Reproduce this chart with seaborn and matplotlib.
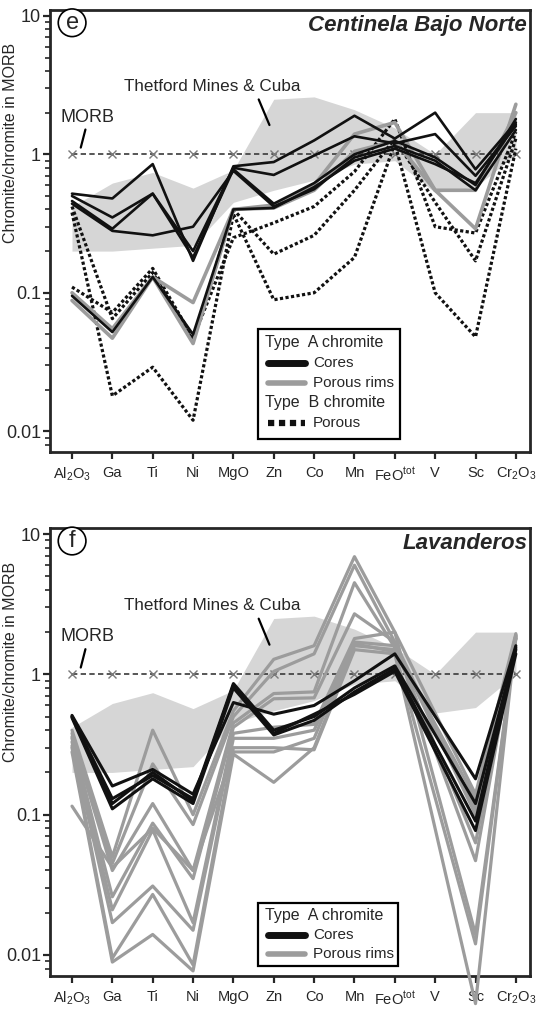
import numpy as np
import pandas as pd
import matplotlib
matplotlib.use("Agg")
import matplotlib.pyplot as plt
import seaborn as sns
from matplotlib.lines import Line2D
from matplotlib.patches import Rectangle
from matplotlib.ticker import LogLocator, NullFormatter

nan = np.nan

# ---- elements on the x axis ----
elements = ["Al2O3", "Ga", "Ti", "Ni", "MgO", "Zn", "Co", "Mn", "FeO", "V", "Sc", "Cr2O3"]
tick_labels = [r"Al$_2$O$_3$", "Ga", "Ti", "Ni", "MgO", "Zn", "Co", "Mn",
               r"FeO$^{\mathregular{tot}}$", "V", "Sc", r"Cr$_2$O$_3$"]
ytick_values = [0.01, 0.1, 1, 10]
ytick_labels = ["0.01", "0.1", "1", "10"]

# MORB normalisation reference
morb = [1.0] * 12

# Thetford Mines & Cuba field (lower / upper envelope)
field_upper = [0.42, 0.62, 0.74, 0.57, 0.77, 2.50, 2.60, 2.10, 1.55, 1.00, 2.00, 2.00]
field_lower = [0.20, 0.20, 0.21, 0.22, 0.45, 0.55, 0.65, 0.85, 0.90, 0.53, 0.58, 1.00]

# ---- Centinela Bajo Norte ----
cbn_cores = [
    [0.52, 0.48, 0.85, 0.17, 0.82, 0.88, 1.26, 1.90, 1.30, 2.00, 0.78, 1.70],
    [0.50, 0.35, 0.52, 0.20, 0.80, 0.71, 0.98, 1.35, 1.20, 1.40, 0.70, 1.60],
    [0.46, 0.29, 0.52, 0.18, 0.78, 0.44, 0.62, 1.00, 1.25, 0.95, 0.60, 1.80],
    [0.44, 0.28, 0.26, 0.30, 0.76, 0.42, 0.56, 0.95, 1.15, 0.90, 0.55, 1.50],
    [0.095, 0.052, 0.13, 0.050, 0.40, 0.41, 0.58, 0.90, 1.10, 0.85, 0.62, 1.65],
]
cbn_rims = [
    [0.100, 0.055, 0.13, 0.085, 0.40, 0.43, 0.60, 1.40, 1.70, 0.55, 0.29, 2.30],
    [0.088, 0.047, 0.13, 0.043, 0.40, 0.41, 0.55, 1.05, 1.25, 0.55, 0.55, 2.00],
]
cbn_type_b = [
    [0.110, 0.072, 0.15, 0.047, 0.25, 0.32, 0.42, 0.75, 1.80, 0.30, 0.27, 1.45],
    [0.420, 0.065, 0.14, 0.045, 0.40, 0.19, 0.26, 0.55, 1.30, 0.45, 0.17, 1.30],
    [0.380, 0.018, 0.029, 0.012, 0.37, 0.089, 0.10, 0.18, 1.20, 0.10, 0.048, 1.10],
]

# ---- Lavanderos (no V analyses) ----
lav_cores = [
    [0.51, 0.16, 0.21, 0.14, 0.63, 0.52, 0.60, 0.90, 1.40, nan, 0.18, 1.60],
    [0.50, 0.13, 0.19, 0.13, 0.86, 0.40, 0.50, 0.80, 1.15, nan, 0.12, 1.50],
    [0.49, 0.11, 0.18, 0.12, 0.80, 0.37, 0.47, 0.75, 1.10, nan, 0.09, 1.55],
    [0.50, 0.12, 0.20, 0.125, 0.84, 0.38, 0.52, 0.72, 1.05, nan, 0.077, 1.40],
]
lav_rims = [
    [0.40, 0.050, 0.40, 0.10, 0.55, 1.28, 1.60, 6.90, 2.00, nan, 0.14, 1.95],
    [0.38, 0.045, 0.23, 0.085, 0.50, 1.05, 1.40, 6.00, 1.70, nan, 0.11, 1.90],
    [0.36, 0.040, 0.12, 0.040, 0.45, 0.73, 0.75, 4.50, 1.55, nan, 0.063, 1.85],
    [0.35, 0.026, 0.087, 0.035, 0.42, 0.67, 0.68, 2.70, 1.70, nan, 0.047, 1.90],
    [0.33, 0.021, 0.078, 0.017, 0.38, 0.42, 0.44, 1.80, 2.00, nan, 0.014, 1.80],
    [0.31, 0.017, 0.031, 0.015, 0.35, 0.35, 0.40, 1.65, 1.45, nan, 0.012, 1.85],
    [0.30, 0.0095, 0.027, 0.0085, 0.30, 0.30, 0.29, 1.50, 1.40, nan, 0.0045, 1.90],
    [0.115, 0.042, 0.080, 0.040, 0.28, 0.28, 0.35, 1.70, 1.60, nan, 0.10, 1.80],
    [0.28, 0.0089, 0.014, 0.0077, 0.27, 0.17, 0.30, 1.60, 1.50, nan, 0.13, 1.80],
]

BLACK = "#111111"
GREY = "#9c9c9c"
FIELD = "#d6d6d6"
DOTS = (0, (1.0, 0.75))

sns.set_style("ticks")
plt.rcParams["font.family"] = ["Liberation Sans", "DejaVu Sans"]
plt.rcParams["mathtext.fontset"] = "custom"
plt.rcParams["mathtext.rm"] = "Liberation Sans"
plt.rcParams["mathtext.it"] = "Liberation Sans:italic"
plt.rcParams["mathtext.bf"] = "Liberation Sans:bold"


def to_long(rows, group):
    recs = []
    for i, row in enumerate(rows):
        for j, v in enumerate(row):
            if not np.isnan(v):
                recs.append((group, f"{group}-{i}", j, v))
    return pd.DataFrame(recs, columns=["group", "sample", "pos", "value"])


def draw_group(ax, rows, group, color, lw, ls="-", clip=True):
    df = to_long(rows, group)
    n0 = len(ax.lines)
    sns.lineplot(data=df, x="pos", y="value", units="sample", estimator=None,
                 sort=False, color=color, lw=lw, linestyle=ls, ax=ax,
                 legend=False, zorder=3)
    for ln in ax.lines[n0:]:
        ln.set_clip_on(clip)
        if ls != "-":
            ln.set_dash_capstyle("butt")


def style_axes(ax, letter, title):
    x = np.arange(len(elements))
    ax.set_yscale("log")
    ax.fill_between(x, field_lower, field_upper, color=FIELD, lw=0, zorder=0)
    ax.plot(x, morb, color="#3a3a3a", lw=1.2, dashes=(3.2, 2.0), zorder=1)
    ax.plot(x, morb, ls="none", marker="x", ms=6, mew=1.0, color="#7a7a7a", zorder=1)

    ax.set_xlim(-0.545, 11.35)
    ax.set_ylim(10 ** -2.15, 10 ** 1.043)
    ax.set_xticks(x, labels=tick_labels, fontsize=10.5)
    ax.set_yticks(ytick_values, labels=ytick_labels, fontsize=13)
    ax.yaxis.set_minor_locator(LogLocator(base=10, subs=np.arange(2, 10)))
    ax.yaxis.set_minor_formatter(NullFormatter())
    ax.tick_params(axis="y", which="major", direction="out", length=5, width=1.6, pad=1.5)
    ax.tick_params(axis="y", which="minor", direction="out", length=3.5, width=1.2)
    ax.tick_params(axis="x", which="major", direction="out", length=5, width=1.6, pad=5)
    for sp in ax.spines.values():
        sp.set_visible(True)
        sp.set_linewidth(2.0)

    ax.text(0.046, 0.971, letter, transform=ax.transAxes, fontsize=17,
            ha="center", va="center",
            bbox=dict(boxstyle="circle,pad=0.12", fc="white", ec="black", lw=1.2))
    ax.text(0.994, 0.965, title, transform=ax.transAxes, fontsize=16,
            fontweight="bold", fontstyle="italic", ha="right", va="center")

    ax.text(3.47, 3.1, "Thetford Mines & Cuba", fontsize=12.3, ha="center", va="center")
    ax.annotate("", xy=(4.92, 1.56), xytext=(4.6, 2.6),
                arrowprops=dict(arrowstyle="-", lw=1.6, color="black"))
    ax.text(0.38, 1.86, "MORB", fontsize=13, ha="center", va="center")
    ax.annotate("", xy=(0.2, 1.07), xytext=(0.35, 1.58),
                arrowprops=dict(arrowstyle="-", lw=1.6, color="black"))


def draw_key(ax, box, rows):
    x0, y0, x1, y1 = box
    ax.add_patch(Rectangle((x0, y0), x1 - x0, y1 - y0, transform=ax.transAxes,
                           fc="white", ec="black", lw=1.6, zorder=6))
    for kind, y, label, style in rows:
        if kind == "head":
            ax.text(x0 + 0.015, y, label, transform=ax.transAxes, fontsize=11.5,
                    ha="left", va="center", zorder=7)
        else:
            color, lw, ls = style
            ln = Line2D([x0 + 0.021, x0 + 0.098], [y, y], transform=ax.transAxes,
                        color=color, lw=lw, linestyle=ls, zorder=7)
            ln.set_dash_capstyle("butt")
            ax.add_line(ln)
            ax.text(x0 + 0.115, y, label, transform=ax.transAxes, fontsize=11,
                    ha="left", va="center", zorder=7)


fig = plt.figure(figsize=(5.36, 10.15), dpi=100)
ax_top = fig.add_axes([0.0933, 0.5547, 0.8955, 0.4355])
ax_bot = fig.add_axes([0.0933, 0.0384, 0.8955, 0.4414])

# Centinela Bajo Norte
style_axes(ax_top, "e", "Centinela Bajo Norte")
draw_group(ax_top, cbn_type_b, "typeB", BLACK, 2.3, DOTS)
draw_group(ax_top, cbn_rims, "rims", GREY, 2.6)
draw_group(ax_top, cbn_cores, "cores", BLACK, 1.9)
draw_key(ax_top, (0.433, 0.030, 0.729, 0.278), [
    ("head", 0.247, "Type  A chromite", None),
    ("line", 0.201, "Cores", (BLACK, 5, "-")),
    ("line", 0.156, "Porous rims", (GREY, 4, "-")),
    ("head", 0.111, "Type  B chromite", None),
    ("line", 0.066, "Porous", (BLACK, 4.5, DOTS)),
])

# Lavanderos
style_axes(ax_bot, "f", "Lavanderos")
draw_group(ax_bot, lav_rims, "rims", GREY, 2.3, clip=False)
draw_group(ax_bot, lav_cores, "cores", BLACK, 2.2)
draw_key(ax_bot, (0.433, 0.022, 0.725, 0.163), [
    ("head", 0.134, "Type  A chromite", None),
    ("line", 0.0915, "Cores", (BLACK, 5, "-")),
    ("line", 0.049, "Porous rims", (GREY, 4, "-")),
])

for ax in (ax_top, ax_bot):
    ax.set_xlabel("")
    ax.set_ylabel("Chromite/chromite in MORB", fontsize=11.5)
    ax.yaxis.set_label_coords(-0.066, 0.70)

fig.savefig("out.png", dpi=100, facecolor="white")
